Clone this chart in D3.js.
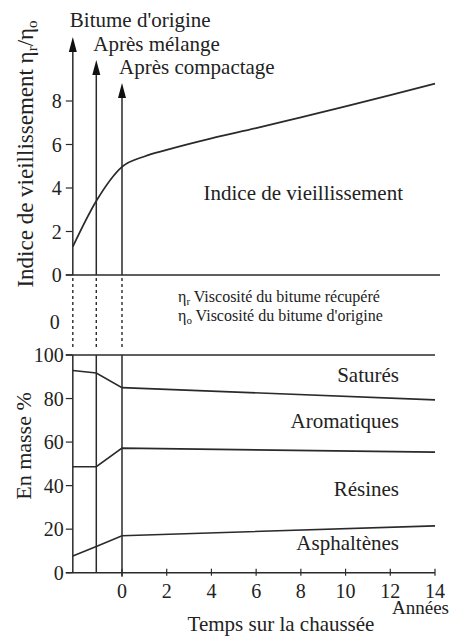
<!DOCTYPE html>
<html>
<head>
<meta charset="utf-8">
<script src="https://cdn.jsdelivr.net/npm/d3@7"></script>
<style>
  body { margin: 0; background: #fff; }
</style>
</head>
<body>
<div id="vis"></div>
<script>
// étapes avant la mise en service (position sur l'axe du temps)
const phaseLabels = ["Bitume d'origine", "Après mélange", "Après compactage"];
const phaseTimes = [-2.2, -1.15, 0];

// axes
const yearTicks = [0, 2, 4, 6, 8, 10, 12, 14];
const indiceTicks = [0, 2, 4, 6, 8];
const masseTicks = [0, 20, 40, 60, 80, 100];

// indice de vieillissement ηr/ηo
const indiceTimes = [-2.2, -1.15, 0, 1, 2, 4, 6, 8, 10, 12, 14];
const indiceValues = [1.3, 3.4, 4.97, 5.45, 5.75, 6.28, 6.75, 7.25, 7.75, 8.27, 8.8];

// composition en masse % (empilée du bas vers le haut)
const fracTimes = [-2.2, -1.15, 0, 14];
const fractions = ["Asphaltènes", "Résines", "Aromatiques", "Saturés"];
const asphaltenes = [7.7, 12, 17, 21.5];
const resines = [41, 36.7, 40.2, 33.9];
const aromatiques = [44.2, 43, 27.8, 24];
const satures = [7.1, 8.3, 15, 20.6];

const W = 449, H = 640;
const ink = "#2a2a2a";
const serif = "'Liberation Serif', 'DejaVu Serif', 'Times New Roman', Times, serif";

const svg = d3.select("#vis").append("svg")
  .attr("width", W).attr("height", H)
  .attr("font-family", serif);

function label(px, py, txt, size, anchor) {
  return svg.append("text")
    .attr("x", px).attr("y", py)
    .attr("text-anchor", anchor || "start")
    .style("font-family", serif)
    .style("font-size", size + "px")
    .attr("fill", "#222")
    .text(txt);
}

const x = d3.scaleLinear().domain([0, 14]).range([122, 435]);
const yTop = d3.scaleLinear().domain([0, 8]).range([275, 101]);
const yBot = d3.scaleLinear().domain([0, 100]).range([572.7, 355]);
const x0 = x(phaseTimes[0]);

// ---------- panneau du haut ----------
svg.append("line")
  .attr("x1", x0 - 7).attr("x2", 440)
  .attr("y1", yTop(0)).attr("y2", yTop(0))
  .attr("stroke", ink).attr("stroke-width", 1.6);

indiceTicks.forEach(v => {
  svg.append("line")
    .attr("x1", x0 - 7).attr("x2", x0)
    .attr("y1", yTop(v)).attr("y2", yTop(v))
    .attr("stroke", ink).attr("stroke-width", 1.2);
  label(x0 - 11, yTop(v) + 7, v, 20, "end");
});
// le "0" de la coupure
label(x0 - 13, 329, "0", 20, "end");

// flèches verticales
const arrowTips = [37, 60, 83];
const labelBase = [27, 51, 74];
phaseTimes.forEach((t, i) => {
  const px = x(t);
  svg.append("line")
    .attr("x1", px).attr("x2", px)
    .attr("y1", arrowTips[i] + 12).attr("y2", yTop(0))
    .attr("stroke", ink).attr("stroke-width", 1.5);
  svg.append("path")
    .attr("d", `M${px},${arrowTips[i]} L${px - 4},${arrowTips[i] + 15} L${px + 4},${arrowTips[i] + 15} Z`)
    .attr("fill", "#111");
  label(px - 3, labelBase[i], phaseLabels[i], 21);
  // pointillés dans la coupure
  svg.append("line")
    .attr("x1", px).attr("x2", px)
    .attr("y1", yTop(0) + 3).attr("y2", 348)
    .attr("stroke", ink).attr("stroke-width", 1.4)
    .attr("stroke-dasharray", "3,3");
  // partie basse
  svg.append("line")
    .attr("x1", px).attr("x2", px)
    .attr("y1", yBot(100)).attr("y2", yBot(0) + (i === 2 ? 4 : 0))
    .attr("stroke", ink).attr("stroke-width", 1.5);
});

// courbe indice
const indiceLine = d3.line()
  .x((d, i) => x(indiceTimes[i]))
  .y(d => yTop(d))
  .curve(d3.curveMonotoneX);
svg.append("path")
  .attr("d", indiceLine(indiceValues))
  .attr("fill", "none").attr("stroke", ink).attr("stroke-width", 1.7);

label(403, 200, "Indice de vieillissement", 21, "end");

// légende viscosités
const legend = [["r", "Viscosité du bitume récupéré"], ["o", "Viscosité du bitume d'origine"]];
legend.forEach((l, i) => {
  const t = label(178, 302 + i * 19, null, 16);
  t.append("tspan").text("η");
  t.append("tspan").attr("dy", 3).style("font-size", "11px").text(l[0]);
  t.append("tspan").attr("dy", -3).text(" " + l[1]);
});

// titre axe haut
const tTop = label(0, 0, null, 23, "middle")
  .attr("transform", "translate(33,154) rotate(-90)");
tTop.append("tspan").text("Indice de vieillissement η");
tTop.append("tspan").attr("dy", 4).style("font-size", "15px").text("r");
tTop.append("tspan").attr("dy", -4).text("/η");
tTop.append("tspan").attr("dy", 4).style("font-size", "15px").text("o");

// ---------- panneau du bas ----------
const rows = fracTimes.map((t, i) => ({
  t: t,
  "Asphaltènes": asphaltenes[i],
  "Résines": resines[i],
  "Aromatiques": aromatiques[i],
  "Saturés": satures[i]
}));
const stacked = d3.stack().keys(fractions)(rows);

const fracLine = d3.line()
  .x(d => x(d.data.t))
  .y(d => yBot(d[1]));

stacked.forEach(s => {
  svg.append("path")
    .attr("d", fracLine(s))
    .attr("fill", "none").attr("stroke", ink).attr("stroke-width", 1.6);
});
svg.append("line")
  .attr("x1", x0 - 7).attr("x2", x0)
  .attr("y1", yBot(100)).attr("y2", yBot(100))
  .attr("stroke", ink).attr("stroke-width", 1.6);

svg.append("line")
  .attr("x1", x0 - 7).attr("x2", x(14))
  .attr("y1", yBot(0)).attr("y2", yBot(0))
  .attr("stroke", ink).attr("stroke-width", 1.6);

masseTicks.forEach(v => {
  svg.append("line")
    .attr("x1", x0 - 7).attr("x2", x0)
    .attr("y1", yBot(v)).attr("y2", yBot(v))
    .attr("stroke", ink).attr("stroke-width", 1.2);
  label(x0 - 9, yBot(v) + 7, v, 20, "end");
});

yearTicks.forEach(v => {
  svg.append("line")
    .attr("x1", x(v)).attr("x2", x(v))
    .attr("y1", yBot(0) - 4).attr("y2", yBot(0) + 3)
    .attr("stroke", ink).attr("stroke-width", 1.2);
  label(x(v), 598, v, 20, "middle");
});

label(449, 614, "Années", 19, "end");
label(281, 631, "Temps sur la chaussée", 21, "middle");

// étiquettes des fractions
const fracLabelAt = [10.4, 35.3, 66.5, 87.7];
fractions.forEach((f, i) => {
  label(399, yBot(fracLabelAt[i]), f, 21, "end");
});

label(0, 0, "En masse %", 22, "middle")
  .attr("transform", "translate(31,446) rotate(-90)");
</script>
</body>
</html>
